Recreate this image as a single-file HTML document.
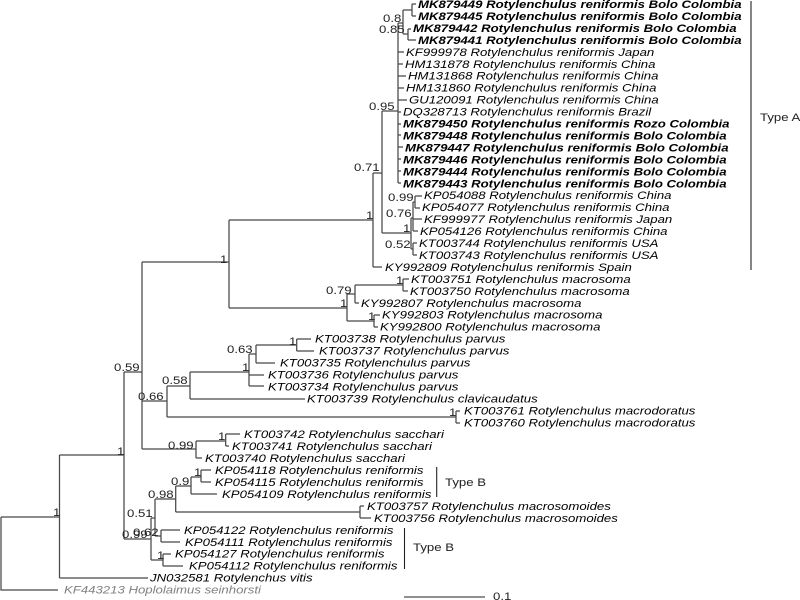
<!DOCTYPE html>
<html><head><meta charset="utf-8"><style>
html,body{margin:0;padding:0;background:#fff;width:800px;height:600px;overflow:hidden}
svg{display:block;filter:blur(.35px)}
text{font-family:"Liberation Sans",sans-serif;font-size:11px;fill:#000}
.i text{font-style:italic}
.b text{font-style:italic;font-weight:bold;fill:#000}
.n text{fill:#222}
</style></head><body>
<svg width="800" height="600" viewBox="0 0 800 600" xmlns="http://www.w3.org/2000/svg">
<g fill="none" stroke="#484848" stroke-width="1.25">
<path d="M1 517V590H58M1 517H59M59.5 455V578M59.5 455H124M59.5 578H148M124 372V539M124 372H142M142 262V449M142 262H229M229 220V308M229 220H373M373 173V267M373 267H382M373 173H382M382 111V233M382 111H398M398 23V183"/>
<path d="M398 23H403M403 10V34M403 10H412M412 4V16M412 4H416M412 16H416M403 34H408M408 29V40M408 29H411M408 40H416"/>
<path d="M398 52H404M398 64H403M398 76H406M398 88H404M398 100H407M398 112H401M398 124H401M398 135H401M398 147H403M398 159H401M398 171H401M398 183H401"/>
<path d="M382 233H411M411 218V249M411 218H413M413 202V231M413 202H415M415 196V208M415 196H422M415 208H420M413 219H422M413 231H418M411 249H413M413 243V255M413 243H417M413 255H417"/>
<path d="M229 308H347M347 294V321M347 294H355M355 285V303M355 285H403M403 279V291M403 279H409M403 291H408M355 303H359M347 321H374M374 315V327M374 315H380M374 327H378"/>
<path d="M142 401H167M167 386V417M167 386H190M190 372V399M190 399H305M190 372H249M249 354V386M249 354H256M256 345V363M256 363H275M256 345H296M296.7 339V351M296.7 339H311M296.7 351H314M249 375H264M249 386H264M167 417H456M456 411V423M456 411H460M456 423H460"/>
<path d="M142 449H196M196 441V458M196 458H202M196 441H225M225.7 434V446M225.7 434H240M225.7 446H229"/>
<path d="M124 539H151M151 518V560M151 518H155M155 499V536M155 499H175.7M175.7 486V512M175.7 512H360M360 506V518M360 506H364M360 518H371M175.7 486H191M191 477V494M191 494H217M191 477H201M201 470V482M201 470H211M201 482H211M155 536H161M161 530V542M161 530H180M161 542H180M151 560H163M163 554V566M163 554H171M163 566H183"/>
</g>
<path d="M751 1V270M436.7 467V497M404.5 528V569M404 597H485" fill="none" stroke="#222" stroke-width="1.1"/>
<g class="b">
<text transform="matrix(1.2 0 0 1 418 8)">MK879449 Rotylenchulus reniformis Bolo Colombia</text>
<text transform="matrix(1.2 0 0 1 418 20)">MK879445 Rotylenchulus reniformis Bolo Colombia</text>
<text transform="matrix(1.2 0 0 1 413 32)">MK879442 Rotylenchulus reniformis Bolo Colombia</text>
<text transform="matrix(1.2 0 0 1 418 44)">MK879441 Rotylenchulus reniformis Bolo Colombia</text>
<text transform="matrix(1.2 0 0 1 403 127.5)">MK879450 Rotylenchulus reniformis Rozo Colombia</text>
<text transform="matrix(1.2 0 0 1 403 139.5)">MK879448 Rotylenchulus reniformis Bolo Colombia</text>
<text transform="matrix(1.2 0 0 1 405 151.4)">MK879447 Rotylenchulus reniformis Bolo Colombia</text>
<text transform="matrix(1.2 0 0 1 403 163.4)">MK879446 Rotylenchulus reniformis Bolo Colombia</text>
<text transform="matrix(1.2 0 0 1 403 175.3)">MK879444 Rotylenchulus reniformis Bolo Colombia</text>
<text transform="matrix(1.2 0 0 1 403 187.3)">MK879443 Rotylenchulus reniformis Bolo Colombia</text>
</g>
<g class="i">
<text transform="matrix(1.2 0 0 1 406 55.8)">KF999978 Rotylenchulus reniformis Japan</text>
<text transform="matrix(1.2 0 0 1 405 67.8)">HM131878 Rotylenchulus reniformis China</text>
<text transform="matrix(1.2 0 0 1 408 79.7)">HM131868 Rotylenchulus reniformis China</text>
<text transform="matrix(1.2 0 0 1 406 91.7)">HM131860 Rotylenchulus reniformis China</text>
<text transform="matrix(1.2 0 0 1 409 103.6)">GU120091 Rotylenchulus reniformis China</text>
<text transform="matrix(1.2 0 0 1 403 115.6)">DQ328713 Rotylenchulus reniformis Brazil</text>
<text transform="matrix(1.2 0 0 1 424 199.2)">KP054088 Rotylenchulus reniformis China</text>
<text transform="matrix(1.2 0 0 1 422 211.2)">KP054077 Rotylenchulus reniformis China</text>
<text transform="matrix(1.2 0 0 1 424 223.1)">KF999977 Rotylenchulus reniformis Japan</text>
<text transform="matrix(1.2 0 0 1 420 235.1)">KP054126 Rotylenchulus reniformis China</text>
<text transform="matrix(1.2 0 0 1 419 247)">KT003744 Rotylenchulus reniformis USA</text>
<text transform="matrix(1.2 0 0 1 419 259)">KT003743 Rotylenchulus reniformis USA</text>
<text transform="matrix(1.2 0 0 1 385 270.9)">KY992809 Rotylenchulus reniformis Spain</text>
<text transform="matrix(1.2 0 0 1 411 282.9)">KT003751 Rotylenchulus macrosoma</text>
<text transform="matrix(1.2 0 0 1 410 294.8)">KT003750 Rotylenchulus macrosoma</text>
<text transform="matrix(1.2 0 0 1 361 306.8)">KY992807 Rotylenchulus macrosoma</text>
<text transform="matrix(1.2 0 0 1 382 318.7)">KY992803 Rotylenchulus macrosoma</text>
<text transform="matrix(1.2 0 0 1 380 330.7)">KY992800 Rotylenchulus macrosoma</text>
<text transform="matrix(1.2 0 0 1 315 342.6)">KT003738 Rotylenchulus parvus</text>
<text transform="matrix(1.2 0 0 1 319 354.6)">KT003737 Rotylenchulus parvus</text>
<text transform="matrix(1.2 0 0 1 280 366.5)">KT003735 Rotylenchulus parvus</text>
<text transform="matrix(1.2 0 0 1 268 378.5)">KT003736 Rotylenchulus parvus</text>
<text transform="matrix(1.2 0 0 1 268 390.4)">KT003734 Rotylenchulus parvus</text>
<text transform="matrix(1.2 0 0 1 307 402.4)">KT003739 Rotylenchulus clavicaudatus</text>
<text transform="matrix(1.2 0 0 1 464 414.3)">KT003761 Rotylenchulus macrodoratus</text>
<text transform="matrix(1.2 0 0 1 464 426.3)">KT003760 Rotylenchulus macrodoratus</text>
<text transform="matrix(1.2 0 0 1 244 438.2)">KT003742 Rotylenchulus sacchari</text>
<text transform="matrix(1.2 0 0 1 232 450.2)">KT003741 Rotylenchulus sacchari</text>
<text transform="matrix(1.2 0 0 1 205 462.1)">KT003740 Rotylenchulus sacchari</text>
<text transform="matrix(1.2 0 0 1 215 474.1)">KP054118 Rotylenchulus reniformis</text>
<text transform="matrix(1.2 0 0 1 215 486)">KP054115 Rotylenchulus reniformis</text>
<text transform="matrix(1.2 0 0 1 222 498)">KP054109 Rotylenchulus reniformis</text>
<text transform="matrix(1.2 0 0 1 367 509.9)">KT003757 Rotylenchulus macrosomoides</text>
<text transform="matrix(1.2 0 0 1 374 521.9)">KT003756 Rotylenchulus macrosomoides</text>
<text transform="matrix(1.2 0 0 1 184 533.8)">KP054122 Rotylenchulus reniformis</text>
<text transform="matrix(1.2 0 0 1 185 545.8)">KP054111 Rotylenchulus reniformis</text>
<text transform="matrix(1.2 0 0 1 175 557.7)">KP054127 Rotylenchulus reniformis</text>
<text transform="matrix(1.2 0 0 1 189 569.7)">KP054112 Rotylenchulus reniformis</text>
<text transform="matrix(1.2 0 0 1 150 581.6)">JN032581 Rotylenchus vitis</text>
<text transform="matrix(1.2 0 0 1 64 593.6)" style="fill:#808080">KF443213 Hoplolaimus seinhorsti</text>
</g>
<g class="n">
<text transform="matrix(1.2 0 0 1 383 22)">0.8</text>
<text transform="matrix(1.2 0 0 1 379 33)">0.85</text>
<text transform="matrix(1.2 0 0 1 369 110)">0.95</text>
<text transform="matrix(1.2 0 0 1 354 171)">0.71</text>
<text transform="matrix(1.2 0 0 1 366 219)">1</text>
<text transform="matrix(1.2 0 0 1 388 201)">0.99</text>
<text transform="matrix(1.2 0 0 1 386 217)">0.76</text>
<text transform="matrix(1.2 0 0 1 403 232)">1</text>
<text transform="matrix(1.2 0 0 1 385 248)">0.52</text>
<text transform="matrix(1.2 0 0 1 220 263)">1</text>
<text transform="matrix(1.2 0 0 1 396 284)">1</text>
<text transform="matrix(1.2 0 0 1 326 294)">0.79</text>
<text transform="matrix(1.2 0 0 1 340 307)">1</text>
<text transform="matrix(1.2 0 0 1 368 320)">1</text>
<text transform="matrix(1.2 0 0 1 289 345)">1</text>
<text transform="matrix(1.2 0 0 1 227 353)">0.63</text>
<text transform="matrix(1.2 0 0 1 242 371)">1</text>
<text transform="matrix(1.2 0 0 1 114 371)">0.59</text>
<text transform="matrix(1.2 0 0 1 162 384)">0.58</text>
<text transform="matrix(1.2 0 0 1 138 400)">0.66</text>
<text transform="matrix(1.2 0 0 1 449 416)">1</text>
<text transform="matrix(1.2 0 0 1 218 440)">1</text>
<text transform="matrix(1.2 0 0 1 168 449)">0.99</text>
<text transform="matrix(1.2 0 0 1 117 455)">1</text>
<text transform="matrix(1.2 0 0 1 194 476)">1</text>
<text transform="matrix(1.2 0 0 1 171 485)">0.9</text>
<text transform="matrix(1.2 0 0 1 148 498)">0.98</text>
<text transform="matrix(1.2 0 0 1 53 516)">1</text>
<text transform="matrix(1.2 0 0 1 127 517)">0.51</text>
<text transform="matrix(1.2 0 0 1 133 536)">0.62</text>
<text transform="matrix(1.2 0 0 1 122 538)">0.99</text>
<text transform="matrix(1.2 0 0 1 157 559)">1</text>
<text transform="matrix(1.2 0 0 1 760 121)">Type A</text>
<text transform="matrix(1.2 0 0 1 445 486)">Type B</text>
<text transform="matrix(1.2 0 0 1 413 551)">Type B</text>
<text transform="matrix(1.2 0 0 1 493 600)">0.1</text>
</g>
</svg>
</body></html>
